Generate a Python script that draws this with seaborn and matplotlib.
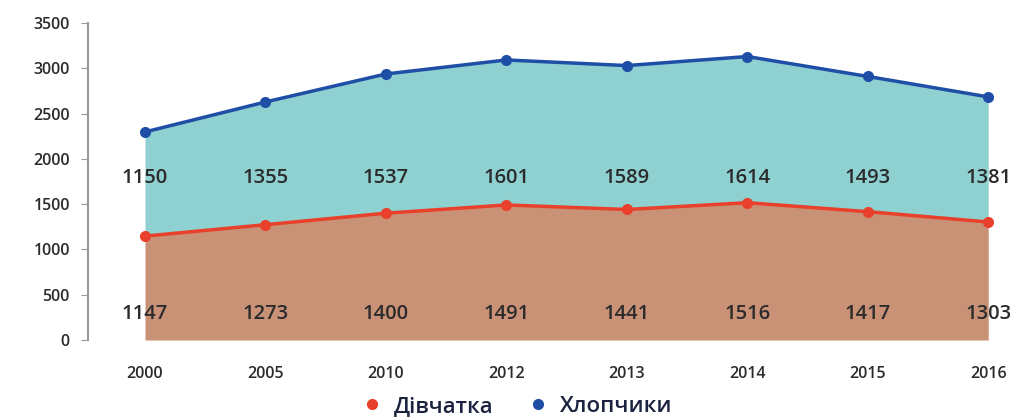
import pandas as pd
import matplotlib.pyplot as plt
import seaborn as sns
from matplotlib.lines import Line2D

years = ['2000', '2005', '2010', '2012', '2013', '2014', '2015', '2016']
girls = [1147, 1273, 1400, 1491, 1441, 1516, 1417, 1303]
boys = [1150, 1355, 1537, 1601, 1589, 1614, 1493, 1381]

sns.set_style('white')
plt.rcParams['font.family'] = ['Open Sans', 'DejaVu Sans']
plt.rcParams['font.weight'] = 'semibold'

df = pd.DataFrame({'pos': range(len(years)), 'year': years, 'girls': girls, 'boys': boys})
df['total'] = df['girls'] + df['boys']

red = '#e8402a'
blue = '#1f4ea6'
txt = '#2b2b2b'

fig = plt.figure(figsize=(10.28, 4.2), dpi=100)
ax = fig.add_axes([88 / 1028, 80 / 420, 1 - 88 / 1028, 317 / 420])

# stacked areas
ax.fill_between(df['pos'], 0, df['girls'], color='#c99277', lw=0, zorder=1)
ax.fill_between(df['pos'], df['girls'], df['total'], color='#8fd0d0', lw=0, zorder=1)

sns.lineplot(data=df, x='pos', y='girls', color=red, lw=2.5, marker='o', markersize=8,
             markeredgewidth=0, ax=ax, zorder=3)
sns.lineplot(data=df, x='pos', y='total', color=blue, lw=2.5, marker='o', markersize=8,
             markeredgewidth=0, ax=ax, zorder=3)

# value labels
for p, g, b in zip(df['pos'], df['girls'], df['boys']):
    ax.text(p, 1790, str(b), ha='center', va='center', fontsize=14.5, color=txt,
            fontweight='semibold', zorder=4)
    ax.text(p, 290, str(g), ha='center', va='center', fontsize=14.5, color=txt,
            fontweight='semibold', zorder=4)

ax.set_xlim(-0.473, 7.33)
ax.set_ylim(0, 3500)
ax.set_yticks(range(0, 3501, 500))
ax.set_xticks(df['pos'])
ax.set_xticklabels(years)
ax.set_xlabel('')
ax.set_ylabel('')
ax.tick_params(axis='y', left=True, length=5, color='#999999', labelsize=11.5, labelcolor=txt, pad=8)
ax.tick_params(axis='x', bottom=False, labelsize=11.5, labelcolor=txt, pad=15)
for s in ['top', 'right', 'bottom']:
    ax.spines[s].set_visible(False)
ax.spines['left'].set_color('#999999')
ax.spines['left'].set_linewidth(1.5)

handles = [Line2D([], [], marker='o', color=red, lw=0, markersize=7),
           Line2D([], [], marker='o', color=blue, lw=0, markersize=7)]
fig.legend(handles, ['Дівчатка', 'Хлопчики'], loc='lower center', bbox_to_anchor=(0.497, -0.04),
           ncol=2, frameon=False, fontsize=16, handletextpad=0.0, columnspacing=1.0,
           labelcolor='#1c2340', prop={'weight': 'semibold', 'size': 16})

fig.savefig('out.png', dpi=100)
